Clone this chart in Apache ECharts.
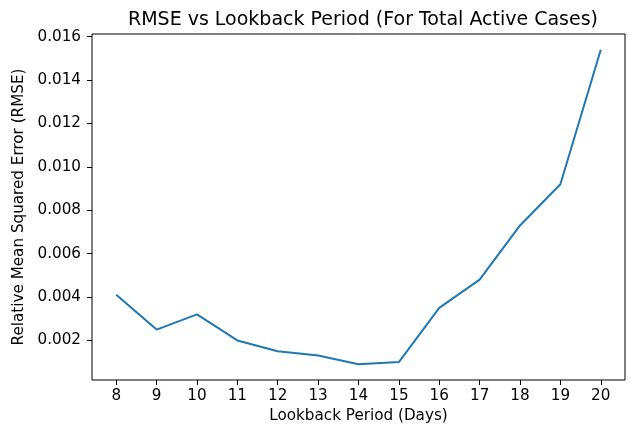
<!DOCTYPE html>
<html>
<head>
<meta charset="utf-8">
<script src="https://cdn.jsdelivr.net/npm/echarts@6/dist/echarts.min.js"></script>
<style>
  html, body { margin: 0; padding: 0; background: #fff; }
  #chart { width: 630px; height: 431px; }
</style>
</head>
<body>
<div id="chart"></div>
<script>
// lookback period (days) and RMSE
const lookback = [8, 9, 10, 11, 12, 13, 14, 15, 16, 17, 18, 19, 20]
const rmse = [0.0041, 0.0025, 0.0032, 0.0020, 0.0015, 0.0013, 0.0009, 0.0010, 0.0035, 0.0048, 0.0073, 0.0092, 0.0154]
const yTicks = [0.002, 0.004, 0.006, 0.008, 0.010, 0.012, 0.014, 0.016]

const font = 'DejaVu Sans'
const chart = echarts.init(document.getElementById('chart'))

const option = {
  backgroundColor: '#fff',
  animation: false,
  title: {
    text: 'RMSE vs Lookback Period (For Total Active Cases)',
    left: 358,
    top: 6,
    textAlign: 'center',
    textStyle: { fontFamily: font, fontSize: 19, fontWeight: 'normal', color: '#000' },
  },
  // grid border stands in for the matplotlib spines
  grid: { left: 92, right: 5, top: 34, bottom: 51, show: true, borderColor: '#000', borderWidth: 1 },
  xAxis: {
    type: 'value',
    min: 7.4,
    max: 20.6,
    name: 'Lookback Period (Days)',
    nameLocation: 'middle',
    nameGap: 26,
    nameTextStyle: { fontFamily: font, fontSize: 15.2, color: '#000' },
    axisLine: { show: false },
    axisTick: { show: true, length: 5, lineStyle: { color: '#000' }, customValues: lookback },
    axisLabel: { customValues: lookback, margin: 9, fontFamily: font, fontSize: 15.2, color: '#000' },
    splitLine: { show: false },
  },
  yAxis: {
    type: 'value',
    min: 0.000175,
    max: 0.016125,
    name: 'Relative Mean Squared Error (RMSE)',
    nameLocation: 'middle',
    nameGap: 64,
    nameTextStyle: { fontFamily: font, fontSize: 15.2, color: '#000' },
    axisLine: { show: false },
    axisTick: { show: true, length: 5, lineStyle: { color: '#000' }, customValues: yTicks },
    axisLabel: {
      customValues: yTicks,
      margin: 11,
      fontFamily: font,
      fontSize: 15.2,
      color: '#000',
      formatter: (v) => v.toFixed(3),
    },
    splitLine: { show: false },
  },
  series: [
    {
      type: 'line',
      data: lookback.map((d, i) => [d, rmse[i]]),
      showSymbol: false,
      lineStyle: { color: '#1f77b4', width: 2 },
      itemStyle: { color: '#1f77b4' },
    },
  ],
}

chart.setOption(option)
</script>
</body>
</html>
